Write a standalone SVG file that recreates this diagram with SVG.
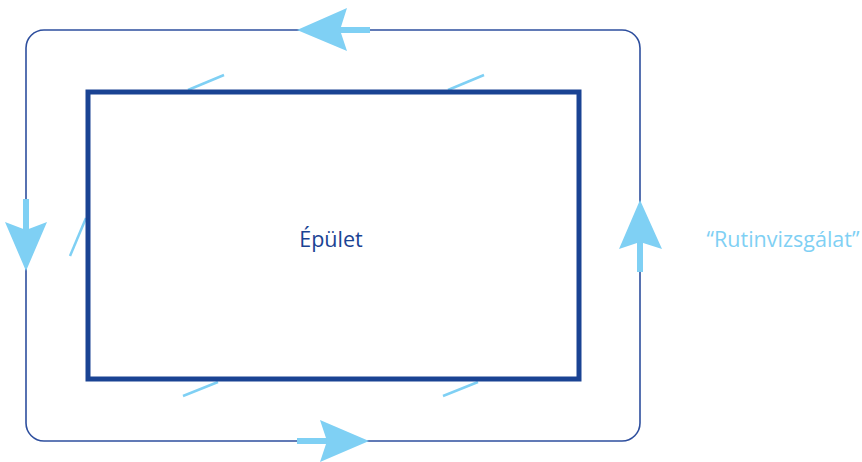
<svg xmlns="http://www.w3.org/2000/svg" width="862" height="462" viewBox="0 0 862 462">
<style>
.loop{fill:none;stroke:#2e4f9e;stroke-width:1.6}
.bld{fill:#fff;stroke:#1a4393;stroke-width:5}
.shaft{stroke:#7fd0f4;stroke-width:6;fill:none}
.head{fill:#7fd0f4}
.tick{stroke:#7fd0f4;stroke-width:2.5;fill:none}
.t1{font-family:"Open Sans","Noto Sans",sans-serif;font-size:21.5px;fill:#1a4393}
.t2{font-family:"Open Sans","Noto Sans",sans-serif;font-size:21.5px;fill:#7fd0f4}
</style>
<g id="connectors">
<rect class="loop" x="26" y="30" width="614" height="411" rx="18"/>
<g id="arrow-top"><line class="shaft" x1="370" y1="30" x2="338" y2="30"/><polygon class="head" points="297,30 347,8 340,30 347,51"/></g>
<g id="arrow-left"><line class="shaft" x1="26" y1="199" x2="26" y2="232"/><polygon class="head" points="26,271 5,222 26,230 47,222"/></g>
<g id="arrow-right"><line class="shaft" x1="640" y1="272" x2="640" y2="240"/><polygon class="head" points="640,200 662,249 640,242 619,249"/></g>
<g id="arrow-bottom"><line class="shaft" x1="297" y1="441" x2="330" y2="441"/><polygon class="head" points="369,441 320,420 327,441 320,462"/></g>
<line class="tick" x1="188" y1="90" x2="224" y2="75"/>
<line class="tick" x1="448" y1="90" x2="484" y2="75"/>
<line class="tick" x1="218" y1="382" x2="183" y2="396"/>
<line class="tick" x1="478" y1="382" x2="443" y2="396"/>
<line class="tick" x1="86" y1="218" x2="70" y2="256"/>
</g>
<g id="building">
<rect class="bld" x="88" y="92" width="491" height="287"/>
<text class="t1" x="331" y="247" text-anchor="middle">Épület</text>
</g>
<g id="label">
<text class="t2" x="783" y="247" text-anchor="middle">“Rutinvizsgálat”</text>
</g>
</svg>
